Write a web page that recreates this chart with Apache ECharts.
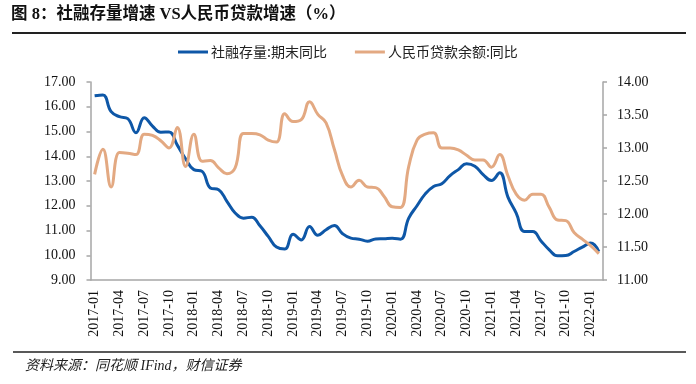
<!DOCTYPE html>
<html>
<head>
<meta charset="utf-8">
<script src="https://cdn.jsdelivr.net/npm/echarts@6/dist/echarts.min.js"></script>
<style>
html,body{margin:0;padding:0;background:#fff;}
#chart{width:696px;height:384px;}
</style>
</head>
<body>
<div id="chart"></div>
<script>
const categories = [
 '2017-01','2017-02','2017-03','2017-04','2017-05','2017-06','2017-07','2017-08','2017-09','2017-10','2017-11','2017-12',
 '2018-01','2018-02','2018-03','2018-04','2018-05','2018-06','2018-07','2018-08','2018-09','2018-10','2018-11','2018-12',
 '2019-01','2019-02','2019-03','2019-04','2019-05','2019-06','2019-07','2019-08','2019-09','2019-10','2019-11','2019-12',
 '2020-01','2020-02','2020-03','2020-04','2020-05','2020-06','2020-07','2020-08','2020-09','2020-10','2020-11','2020-12',
 '2021-01','2021-02','2021-03','2021-04','2021-05','2021-06','2021-07','2021-08','2021-09','2021-10','2021-11','2021-12',
 '2022-01','2022-02'
];
// 社融存量:期末同比 (left axis)
const socialFinancing = [
 16.44,16.47,15.80,15.60,15.52,14.95,15.56,15.22,14.97,14.98,14.45,13.90,
 13.46,13.39,12.72,12.65,12.18,11.71,11.50,11.54,11.19,10.76,10.33,10.25,
 10.85,10.62,11.16,10.81,11.03,11.20,10.87,10.69,10.65,10.57,10.66,10.67,
 10.69,10.65,11.50,12.00,12.48,12.78,12.89,13.22,13.46,13.70,13.60,13.26,
 13.02,13.33,12.35,11.70,10.96,10.96,10.58,10.22,9.98,9.99,10.15,10.33,
 10.49,10.15
];
// 人民币贷款余额:同比 (right axis)
const rmbLoans = [
 12.60,12.98,12.41,12.93,12.92,12.90,13.21,13.19,13.11,13.00,13.31,12.72,
 13.21,12.80,12.81,12.70,12.61,12.70,13.22,13.22,13.20,13.12,13.09,13.52,
 13.40,13.43,13.70,13.51,13.38,12.98,12.58,12.41,12.51,12.41,12.40,12.27,
 12.11,12.10,12.72,13.12,13.21,13.23,13.00,13.00,12.97,12.89,12.82,12.82,
 12.71,12.90,12.58,12.30,12.21,12.30,12.30,12.10,11.91,11.90,11.72,11.62,
 11.52,11.40
];
const seriesNames = ['社融存量:期末同比','人民币贷款余额:同比'];
const titleText = '图 8：社融存量增速 VS人民币贷款增速（%）';
const sourceText = '资料来源：同花顺 IFind，财信证券';

const chart = echarts.init(document.getElementById('chart'), null, {renderer:'canvas'});
const axisColor = '#a6a6a6';
const serif = "'Liberation Serif','Noto Sans CJK SC'";
const labelStyle = {fontFamily: serif, fontSize: 14, color: '#111'};
chart.setOption({
  animation: false,
  backgroundColor: '#fff',
  grid: {left: 90.5, right: 93, top: 82, bottom: 104},
  legend: {
    left: 173, top: 40,
    itemWidth: 30, itemHeight: 3, itemGap: 28,
    icon: 'rect',
    textStyle: {fontFamily: "'Noto Sans CJK SC'", fontSize: 14, color: '#222', padding: [0, 0, 0, -2]},
    data: seriesNames
  },
  xAxis: {
    type: 'category', data: categories, boundaryGap: true,
    axisLine: {lineStyle: {color: axisColor, width: 1.5}},
    axisTick: {interval: 2, length: 4, lineStyle: {color: axisColor, width: 1.5}},
    axisLabel: Object.assign({interval: 2, rotate: 90, margin: 10}, labelStyle),
    splitLine: {show: false}
  },
  yAxis: [
    {type: 'value', min: 9, max: 17, interval: 1, position: 'left',
     axisLine: {show: true, lineStyle: {color: axisColor, width: 1.5}},
     axisTick: {show: true, length: 4, lineStyle: {color: axisColor, width: 1.5}},
     axisLabel: Object.assign({margin: 15, formatter: v => v.toFixed(2)}, labelStyle),
     splitLine: {show: false}},
    {type: 'value', min: 11, max: 14, interval: 0.5, position: 'right',
     axisLine: {show: true, lineStyle: {color: axisColor, width: 1.5}},
     axisTick: {show: true, length: 4, lineStyle: {color: axisColor, width: 1.5}},
     axisLabel: Object.assign({margin: 14, formatter: v => v.toFixed(2)}, labelStyle),
     splitLine: {show: false}}
  ],
  series: [
    {name: seriesNames[0], type: 'line', yAxisIndex: 0, data: socialFinancing,
     smooth: 0.45, symbol: 'none', color: '#0e57a7', lineStyle: {width: 3, color: '#0e57a7'}},
    {name: seriesNames[1], type: 'line', yAxisIndex: 1, data: rmbLoans,
     smooth: 0.45, symbol: 'none', color: '#e3a982', lineStyle: {width: 3, color: '#e3a982'}}
  ],
  graphic: [
    {type: 'text', left: 11, top: 6,
     style: {text: titleText, font: "bold 16.5px 'Liberation Serif','Noto Sans CJK SC'", fill: '#111'}},
    {type: 'line', shape: {x1: 12, y1: 33, x2: 686, y2: 33}, style: {stroke: '#222', lineWidth: 2}},
    {type: 'line', shape: {x1: 13, y1: 352, x2: 686, y2: 352}, style: {stroke: '#222', lineWidth: 1.5}},
    {type: 'text', left: 25, top: 359,
     style: {text: sourceText, font: "italic 14px 'Liberation Serif','Noto Sans CJK SC'", fill: '#222'}}
  ]
});
</script>
</body>
</html>
